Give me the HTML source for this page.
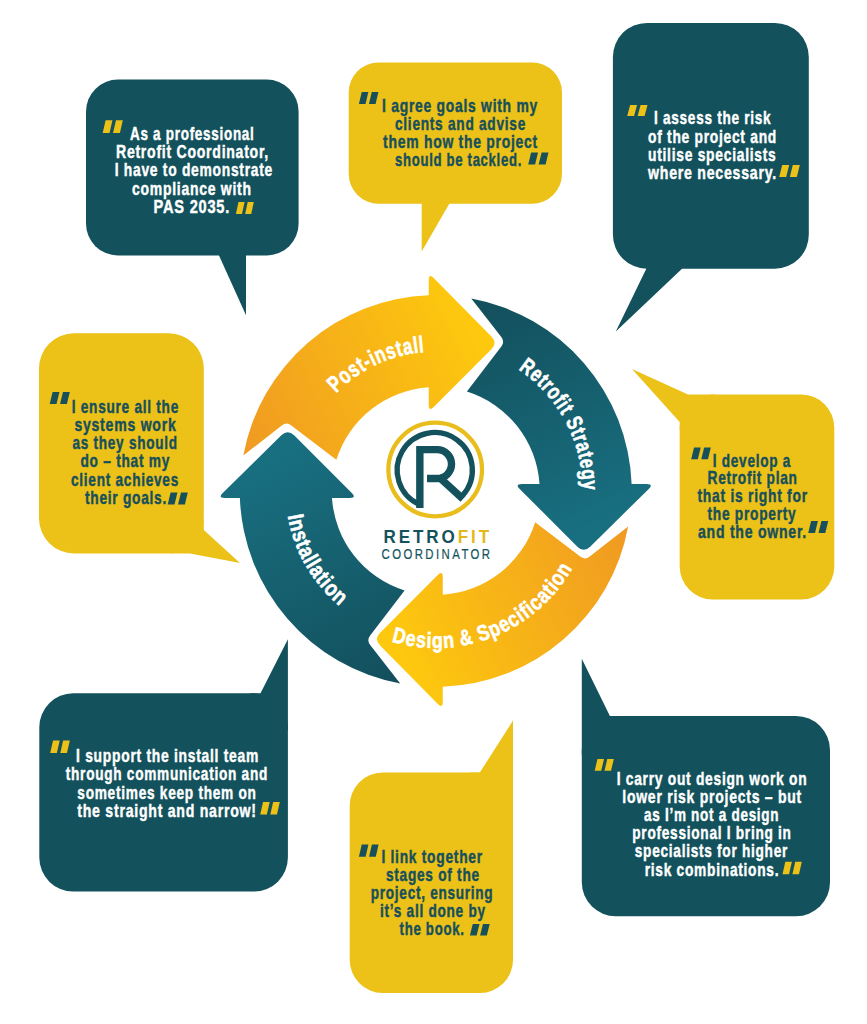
<!DOCTYPE html><html><head><meta charset="utf-8"><style>html,body{margin:0;padding:0;background:#fff;}svg{display:block;}</style></head><body>
<svg width="867" height="1024" viewBox="0 0 867 1024">
<rect width="867" height="1024" fill="#fff"/>
<defs>
<linearGradient id="gT" gradientUnits="userSpaceOnUse" x1="40" y1="-190" x2="150" y2="40"><stop offset="0" stop-color="#134f5c"/><stop offset="1" stop-color="#186f80"/></linearGradient>
<linearGradient id="gO" gradientUnits="userSpaceOnUse" x1="40" y1="-190" x2="150" y2="40"><stop offset="0" stop-color="#f09a22"/><stop offset="1" stop-color="#fdc80e"/></linearGradient>
</defs>
<g transform="translate(435.75,491) rotate(0)"><path d="M35.55,-192.4 L35.55,-192.40 L65.56,-153.93 Q69.25,-149.20 65.60,-144.43 L31.15,-99.40 A104,104 0 0 1 103.76,-7.00 L103.76,-7.00 L86.00,-7.00 Q79.00,-7.00 83.95,-2.05 L141.64,55.64 Q148.00,62.00 154.41,55.68 L213.01,-2.09 Q218.00,-7.00 211.00,-7.00 L195.87,-7.00 A196,196 0 0 0 35.55,-192.4 Z" fill="url(#gT)"/></g>
<g transform="translate(435.75,491) rotate(90)"><path d="M35.55,-192.4 L35.55,-192.40 L65.56,-153.93 Q69.25,-149.20 65.60,-144.43 L31.15,-99.40 A104,104 0 0 1 103.76,-7.00 L103.76,-7.00 L86.00,-7.00 Q79.00,-7.00 83.95,-2.05 L141.64,55.64 Q148.00,62.00 154.41,55.68 L213.01,-2.09 Q218.00,-7.00 211.00,-7.00 L195.87,-7.00 A196,196 0 0 0 35.55,-192.4 Z" fill="url(#gO)"/></g>
<g transform="translate(435.75,491) rotate(180)"><path d="M35.55,-192.4 L35.55,-192.40 L65.56,-153.93 Q69.25,-149.20 65.60,-144.43 L31.15,-99.40 A104,104 0 0 1 103.76,-7.00 L103.76,-7.00 L86.00,-7.00 Q79.00,-7.00 83.95,-2.05 L141.64,55.64 Q148.00,62.00 154.41,55.68 L213.01,-2.09 Q218.00,-7.00 211.00,-7.00 L195.87,-7.00 A196,196 0 0 0 35.55,-192.4 Z" fill="url(#gT)"/></g>
<g transform="translate(435.75,491) rotate(270)"><path d="M35.55,-192.4 L35.55,-192.40 L65.56,-153.93 Q69.25,-149.20 65.60,-144.43 L31.15,-99.40 A104,104 0 0 1 103.76,-7.00 L103.76,-7.00 L86.00,-7.00 Q79.00,-7.00 83.95,-2.05 L141.64,55.64 Q148.00,62.00 154.41,55.68 L213.01,-2.09 Q218.00,-7.00 211.00,-7.00 L195.87,-7.00 A196,196 0 0 0 35.55,-192.4 Z" fill="url(#gO)"/></g>
<defs>
<path id="arc0" d="M296.78,478.84 A139.5,139.5 0 0 1 515.76,376.73"/>
<path id="arc1" d="M440.88,344.09 A147,147 0 0 1 560.41,568.90"/>
<path id="arc2" d="M339.52,615.05 A157,157 0 0 0 591.30,512.31"/>
<path id="arc3" d="M305.98,415.77 A150,150 0 0 0 435.49,641.00"/>
</defs>
<text font-family='"Liberation Sans", sans-serif' font-weight="bold" font-size="23" letter-spacing="1" fill="#fff" stroke="#fff" stroke-width="0.6"><textPath href="#arc0" startOffset="50%" text-anchor="middle" textLength="100" lengthAdjust="spacingAndGlyphs">Post-install</textPath></text>
<text font-family='"Liberation Sans", sans-serif' font-weight="bold" font-size="22.5" letter-spacing="1" fill="#fff" stroke="#fff" stroke-width="0.6"><textPath href="#arc1" startOffset="50%" text-anchor="middle" textLength="143" lengthAdjust="spacingAndGlyphs">Retrofit Strategy</textPath></text>
<text font-family='"Liberation Sans", sans-serif' font-weight="bold" font-size="22" letter-spacing="1" fill="#fff" stroke="#fff" stroke-width="0.6"><textPath href="#arc2" startOffset="50%" text-anchor="middle" textLength="211" lengthAdjust="spacingAndGlyphs">Design &amp; Specification</textPath></text>
<text font-family='"Liberation Sans", sans-serif' font-weight="bold" font-size="22.5" letter-spacing="1" fill="#fff" stroke="#fff" stroke-width="0.6"><textPath href="#arc3" startOffset="50%" text-anchor="middle" textLength="107" lengthAdjust="spacingAndGlyphs">Installation</textPath></text>
<path d="M118,79.6 H266.6 A32,32 0 0 1 298.6,111.6 V223.5 A32,32 0 0 1 266.6,255.5 H118 A32,32 0 0 1 86,223.5 V111.6 A32,32 0 0 1 118,79.6 Z" fill="#13525c"/><path d="M219,250 L219,255.5 L246,315.2 L246,250 Z" fill="#13525c"/>
<path d="M378.7,62.5 H532 A30,30 0 0 1 562,92.5 V173.7 A30,30 0 0 1 532,203.7 H378.7 A30,30 0 0 1 348.7,173.7 V92.5 A30,30 0 0 1 378.7,62.5 Z" fill="#ecc118"/><path d="M421.7,198 L421.7,251.5 L449.3,203.7 L449.3,198 Z" fill="#ecc118"/>
<path d="M646.9,22.9 H774.8 A34,34 0 0 1 808.8,56.9 V234.7 A34,34 0 0 1 774.8,268.7 H646.9 A34,34 0 0 1 612.9,234.7 V56.9 A34,34 0 0 1 646.9,22.9 Z" fill="#13525c"/><path d="M646.3,240 L646.3,268.7 L615.8,331.4 L682,268.7 L682,240 Z" fill="#13525c"/>
<path d="M74,333.3 H168.8 A35,35 0 0 1 203.8,368.3 V518.4 A35,35 0 0 1 168.8,553.4 H74 A35,35 0 0 1 39,518.4 V368.3 A35,35 0 0 1 74,333.3 Z" fill="#ecc118"/><path d="M203.8,520 L203.8,530 L240,563 L190,553.4 L170,553.4 L170,520 Z" fill="#ecc118"/>
<path d="M712.7,394.6 H801.3 A33,33 0 0 1 834.3,427.6 V566.4 A33,33 0 0 1 801.3,599.4 H712.7 A33,33 0 0 1 679.7,566.4 V427.6 A33,33 0 0 1 712.7,394.6 Z" fill="#ecc118"/><path d="M688,394.6 L632,369 L679.7,422 L679.7,430 L715,430 L715,394.6 Z" fill="#ecc118"/>
<path d="M73.3,693.2 H253.89999999999998 A34,34 0 0 1 287.9,727.2 V857.6 A34,34 0 0 1 253.89999999999998,891.6 H73.3 A34,34 0 0 1 39.3,857.6 V727.2 A34,34 0 0 1 73.3,693.2 Z" fill="#13525c"/><path d="M260.5,693.2 L287.9,639.3 L287.9,730 L250,730 L250,693.2 Z" fill="#13525c"/>
<path d="M382.7,772.6 H480 A33,33 0 0 1 513,805.6 V959.9 A33,33 0 0 1 480,992.9 H382.7 A33,33 0 0 1 349.7,959.9 V805.6 A33,33 0 0 1 382.7,772.6 Z" fill="#ecc118"/><path d="M479.8,772.6 L513,720.6 L513,810 L470,810 L470,772.6 Z" fill="#ecc118"/>
<path d="M615.8,716 H796 A34,34 0 0 1 830,750 V882.3 A34,34 0 0 1 796,916.3 H615.8 A34,34 0 0 1 581.8,882.3 V750 A34,34 0 0 1 615.8,716 Z" fill="#13525c"/><path d="M581.8,755 L581.8,658.7 L609.9,716 L620,716 L620,755 Z" fill="#13525c"/>
<text x="130" y="140.4" font-family='"Liberation Sans", sans-serif' font-weight="bold" font-size="19" letter-spacing="1.0" fill="#ffffff" stroke="#ffffff" stroke-width="0.45" textLength="124.5" lengthAdjust="spacingAndGlyphs">As a professional</text>
<text x="116" y="158.3" font-family='"Liberation Sans", sans-serif' font-weight="bold" font-size="19" letter-spacing="1.0" fill="#ffffff" stroke="#ffffff" stroke-width="0.45" textLength="153.0" lengthAdjust="spacingAndGlyphs">Retrofit Coordinator,</text>
<text x="114.7" y="176.1" font-family='"Liberation Sans", sans-serif' font-weight="bold" font-size="19" letter-spacing="1.0" fill="#ffffff" stroke="#ffffff" stroke-width="0.45" textLength="158.3" lengthAdjust="spacingAndGlyphs">I have to demonstrate</text>
<text x="132" y="194.5" font-family='"Liberation Sans", sans-serif' font-weight="bold" font-size="19" letter-spacing="1.0" fill="#ffffff" stroke="#ffffff" stroke-width="0.45" textLength="119.7" lengthAdjust="spacingAndGlyphs">compliance with</text>
<text x="153.6" y="212.5" font-family='"Liberation Sans", sans-serif' font-weight="bold" font-size="19" letter-spacing="1.0" fill="#ffffff" stroke="#ffffff" stroke-width="0.45" textLength="76.4" lengthAdjust="spacingAndGlyphs">PAS 2035.</text>
<path d="M105.6145,120.2 L112.44850000000001,120.2 L109.534,132.9 L102.7,132.9 Z" fill="#ecc118"/><path d="M115.96600000000001,120.2 L122.80000000000001,120.2 L119.88550000000001,132.9 L113.0515,132.9 Z" fill="#ecc118"/>
<path d="M238.4955,202 L244.5815,202 L241.986,214 L235.89999999999998,214 Z" fill="#ecc118"/><path d="M247.714,202 L253.8,202 L251.2045,214 L245.11849999999998,214 Z" fill="#ecc118"/>
<text x="382" y="112" font-family='"Liberation Sans", sans-serif' font-weight="bold" font-size="19" letter-spacing="1.0" fill="#17505b" stroke="#17505b" stroke-width="0.45" textLength="156.0" lengthAdjust="spacingAndGlyphs">I agree goals with my</text>
<text x="395" y="130" font-family='"Liberation Sans", sans-serif' font-weight="bold" font-size="19" letter-spacing="1.0" fill="#17505b" stroke="#17505b" stroke-width="0.45" textLength="131.0" lengthAdjust="spacingAndGlyphs">clients and advise</text>
<text x="383" y="148" font-family='"Liberation Sans", sans-serif' font-weight="bold" font-size="19" letter-spacing="1.0" fill="#17505b" stroke="#17505b" stroke-width="0.45" textLength="155.0" lengthAdjust="spacingAndGlyphs">them how the project</text>
<text x="395" y="166.3" font-family='"Liberation Sans", sans-serif' font-weight="bold" font-size="19" letter-spacing="1.0" fill="#17505b" stroke="#17505b" stroke-width="0.45" textLength="127.0" lengthAdjust="spacingAndGlyphs">should be tackled.</text>
<path d="M361.72749999999996,92 L368.35749999999996,92 L365.53,104 L358.9,104 Z" fill="#17505b"/><path d="M371.77,92 L378.4,92 L375.5725,104 L368.9425,104 Z" fill="#17505b"/>
<path d="M531.1435,152.5 L538.0455,152.5 L535.102,164.6 L528.2,164.6 Z" fill="#17505b"/><path d="M541.598,152.5 L548.4999999999999,152.5 L545.5564999999999,164.6 L538.6545,164.6 Z" fill="#17505b"/>
<text x="654" y="124.4" font-family='"Liberation Sans", sans-serif' font-weight="bold" font-size="19" letter-spacing="1.0" fill="#ffffff" stroke="#ffffff" stroke-width="0.45" textLength="117.4" lengthAdjust="spacingAndGlyphs">I assess the risk</text>
<text x="648" y="142.7" font-family='"Liberation Sans", sans-serif' font-weight="bold" font-size="19" letter-spacing="1.0" fill="#ffffff" stroke="#ffffff" stroke-width="0.45" textLength="129.0" lengthAdjust="spacingAndGlyphs">of the project and</text>
<text x="648" y="161.4" font-family='"Liberation Sans", sans-serif' font-weight="bold" font-size="19" letter-spacing="1.0" fill="#ffffff" stroke="#ffffff" stroke-width="0.45" textLength="128.5" lengthAdjust="spacingAndGlyphs">utilise specialists</text>
<text x="648" y="179" font-family='"Liberation Sans", sans-serif' font-weight="bold" font-size="19" letter-spacing="1.0" fill="#ffffff" stroke="#ffffff" stroke-width="0.45" textLength="129.0" lengthAdjust="spacingAndGlyphs">where necessary.</text>
<path d="M630.1435,105 L637.0455,105 L634.102,116 L627.2,116 Z" fill="#ecc118"/><path d="M640.598,105 L647.4999999999999,105 L644.5564999999999,116 L637.6545,116 Z" fill="#ecc118"/>
<path d="M782.187,165 L789.191,165 L786.2040000000001,177 L779.2,177 Z" fill="#ecc118"/><path d="M792.7959999999999,165 L799.8,165 L796.813,177 L789.809,177 Z" fill="#ecc118"/>
<text x="71.7" y="412.8" font-family='"Liberation Sans", sans-serif' font-weight="bold" font-size="19" letter-spacing="1.0" fill="#17505b" stroke="#17505b" stroke-width="0.45" textLength="107.3" lengthAdjust="spacingAndGlyphs">I ensure all the</text>
<text x="74.4" y="431" font-family='"Liberation Sans", sans-serif' font-weight="bold" font-size="19" letter-spacing="1.0" fill="#17505b" stroke="#17505b" stroke-width="0.45" textLength="102.1" lengthAdjust="spacingAndGlyphs">systems work</text>
<text x="72.5" y="449" font-family='"Liberation Sans", sans-serif' font-weight="bold" font-size="19" letter-spacing="1.0" fill="#17505b" stroke="#17505b" stroke-width="0.45" textLength="105.3" lengthAdjust="spacingAndGlyphs">as they should</text>
<text x="80.5" y="467" font-family='"Liberation Sans", sans-serif' font-weight="bold" font-size="19" letter-spacing="1.0" fill="#17505b" stroke="#17505b" stroke-width="0.45" textLength="89.5" lengthAdjust="spacingAndGlyphs">do – that my</text>
<text x="71" y="485.8" font-family='"Liberation Sans", sans-serif' font-weight="bold" font-size="19" letter-spacing="1.0" fill="#17505b" stroke="#17505b" stroke-width="0.45" textLength="108.0" lengthAdjust="spacingAndGlyphs">client achieves</text>
<text x="85" y="503.8" font-family='"Liberation Sans", sans-serif' font-weight="bold" font-size="19" letter-spacing="1.0" fill="#17505b" stroke="#17505b" stroke-width="0.45" textLength="82.0" lengthAdjust="spacingAndGlyphs">their goals.</text>
<path d="M52.6145,392 L59.448499999999996,392 L56.534,404 L49.7,404 Z" fill="#17505b"/><path d="M62.965999999999994,392 L69.8,392 L66.8855,404 L60.0515,404 Z" fill="#17505b"/>
<path d="M170.6145,492.4 L177.4485,492.4 L174.534,504.4 L167.7,504.4 Z" fill="#17505b"/><path d="M180.966,492.4 L187.8,492.4 L184.8855,504.4 L178.0515,504.4 Z" fill="#17505b"/>
<text x="712.8" y="466.7" font-family='"Liberation Sans", sans-serif' font-weight="bold" font-size="19" letter-spacing="1.0" fill="#17505b" stroke="#17505b" stroke-width="0.45" textLength="78.2" lengthAdjust="spacingAndGlyphs">I develop a</text>
<text x="707.5" y="484" font-family='"Liberation Sans", sans-serif' font-weight="bold" font-size="19" letter-spacing="1.0" fill="#17505b" stroke="#17505b" stroke-width="0.45" textLength="90.2" lengthAdjust="spacingAndGlyphs">Retrofit plan</text>
<text x="697.5" y="501.7" font-family='"Liberation Sans", sans-serif' font-weight="bold" font-size="19" letter-spacing="1.0" fill="#17505b" stroke="#17505b" stroke-width="0.45" textLength="110.3" lengthAdjust="spacingAndGlyphs">that is right for</text>
<text x="707.5" y="520.3" font-family='"Liberation Sans", sans-serif' font-weight="bold" font-size="19" letter-spacing="1.0" fill="#17505b" stroke="#17505b" stroke-width="0.45" textLength="88.9" lengthAdjust="spacingAndGlyphs">the property</text>
<text x="698" y="538.3" font-family='"Liberation Sans", sans-serif' font-weight="bold" font-size="19" letter-spacing="1.0" fill="#17505b" stroke="#17505b" stroke-width="0.45" textLength="109.0" lengthAdjust="spacingAndGlyphs">and the owner.</text>
<path d="M694.042,447.6 L700.706,447.6 L697.864,459.3 L691.2,459.3 Z" fill="#17505b"/><path d="M704.136,447.6 L710.8,447.6 L707.958,459.3 L701.294,459.3 Z" fill="#17505b"/>
<path d="M811.1,521 L817.9,521 L815.0,533 L808.2,533 Z" fill="#17505b"/><path d="M821.4,521 L828.1999999999999,521 L825.3,533 L818.5,533 Z" fill="#17505b"/>
<text x="76" y="762.4" font-family='"Liberation Sans", sans-serif' font-weight="bold" font-size="19" letter-spacing="1.0" fill="#ffffff" stroke="#ffffff" stroke-width="0.45" textLength="183.0" lengthAdjust="spacingAndGlyphs">I support the install team</text>
<text x="65.8" y="780.4" font-family='"Liberation Sans", sans-serif' font-weight="bold" font-size="19" letter-spacing="1.0" fill="#ffffff" stroke="#ffffff" stroke-width="0.45" textLength="202.2" lengthAdjust="spacingAndGlyphs">through communication and</text>
<text x="77.3" y="798.8" font-family='"Liberation Sans", sans-serif' font-weight="bold" font-size="19" letter-spacing="1.0" fill="#ffffff" stroke="#ffffff" stroke-width="0.45" textLength="179.4" lengthAdjust="spacingAndGlyphs">sometimes keep them on</text>
<text x="77.3" y="816.9" font-family='"Liberation Sans", sans-serif' font-weight="bold" font-size="19" letter-spacing="1.0" fill="#ffffff" stroke="#ffffff" stroke-width="0.45" textLength="179.4" lengthAdjust="spacingAndGlyphs">the straight and narrow!</text>
<path d="M53.042,740.6 L59.706,740.6 L56.864000000000004,753 L50.2,753 Z" fill="#ecc118"/><path d="M63.135999999999996,740.6 L69.8,740.6 L66.958,753 L60.294,753 Z" fill="#ecc118"/>
<path d="M263.042,802 L269.70599999999996,802 L266.864,814.4 L260.2,814.4 Z" fill="#ecc118"/><path d="M273.13599999999997,802 L279.79999999999995,802 L276.95799999999997,814.4 L270.294,814.4 Z" fill="#ecc118"/>
<text x="381.4" y="862.5" font-family='"Liberation Sans", sans-serif' font-weight="bold" font-size="19" letter-spacing="1.0" fill="#17505b" stroke="#17505b" stroke-width="0.45" textLength="101.4" lengthAdjust="spacingAndGlyphs">I link together</text>
<text x="386" y="880.6" font-family='"Liberation Sans", sans-serif' font-weight="bold" font-size="19" letter-spacing="1.0" fill="#17505b" stroke="#17505b" stroke-width="0.45" textLength="93.8" lengthAdjust="spacingAndGlyphs">stages of the</text>
<text x="370.8" y="898.8" font-family='"Liberation Sans", sans-serif' font-weight="bold" font-size="19" letter-spacing="1.0" fill="#17505b" stroke="#17505b" stroke-width="0.45" textLength="122.6" lengthAdjust="spacingAndGlyphs">project, ensuring</text>
<text x="380" y="917" font-family='"Liberation Sans", sans-serif' font-weight="bold" font-size="19" letter-spacing="1.0" fill="#17505b" stroke="#17505b" stroke-width="0.45" textLength="105.8" lengthAdjust="spacingAndGlyphs">it’s all done by</text>
<text x="399.6" y="935.4" font-family='"Liberation Sans", sans-serif' font-weight="bold" font-size="19" letter-spacing="1.0" fill="#17505b" stroke="#17505b" stroke-width="0.45" textLength="65.0" lengthAdjust="spacingAndGlyphs">the book.</text>
<path d="M361.75649999999996,844.6 L368.4545,844.6 L365.598,856.7 L358.9,856.7 Z" fill="#17505b"/><path d="M371.902,844.6 L378.6,844.6 L375.74350000000004,856.7 L369.0455,856.7 Z" fill="#17505b"/>
<path d="M472.77099999999996,924 L479.503,924 L476.632,935.4 L469.9,935.4 Z" fill="#17505b"/><path d="M482.96799999999996,924 L489.7,924 L486.829,935.4 L480.097,935.4 Z" fill="#17505b"/>
<text x="616.7" y="784.5" font-family='"Liberation Sans", sans-serif' font-weight="bold" font-size="19" letter-spacing="1.0" fill="#ffffff" stroke="#ffffff" stroke-width="0.45" textLength="190.6" lengthAdjust="spacingAndGlyphs">I carry out design work on</text>
<text x="622.3" y="802.6" font-family='"Liberation Sans", sans-serif' font-weight="bold" font-size="19" letter-spacing="1.0" fill="#ffffff" stroke="#ffffff" stroke-width="0.45" textLength="179.7" lengthAdjust="spacingAndGlyphs">lower risk projects – but</text>
<text x="644" y="820.7" font-family='"Liberation Sans", sans-serif' font-weight="bold" font-size="19" letter-spacing="1.0" fill="#ffffff" stroke="#ffffff" stroke-width="0.45" textLength="135.3" lengthAdjust="spacingAndGlyphs">as I’m not a design</text>
<text x="632.3" y="839.3" font-family='"Liberation Sans", sans-serif' font-weight="bold" font-size="19" letter-spacing="1.0" fill="#ffffff" stroke="#ffffff" stroke-width="0.45" textLength="159.4" lengthAdjust="spacingAndGlyphs">professional I bring in</text>
<text x="634.8" y="857" font-family='"Liberation Sans", sans-serif' font-weight="bold" font-size="19" letter-spacing="1.0" fill="#ffffff" stroke="#ffffff" stroke-width="0.45" textLength="153.2" lengthAdjust="spacingAndGlyphs">specialists for higher</text>
<text x="644.7" y="875.8" font-family='"Liberation Sans", sans-serif' font-weight="bold" font-size="19" letter-spacing="1.0" fill="#ffffff" stroke="#ffffff" stroke-width="0.45" textLength="134.6" lengthAdjust="spacingAndGlyphs">risk combinations.</text>
<path d="M597.4695,759 L603.9635,759 L601.194,770.8 L594.7,770.8 Z" fill="#ecc118"/><path d="M607.306,759 L613.8,759 L611.0305,770.8 L604.5365,770.8 Z" fill="#ecc118"/>
<path d="M785.2985,861.8 L791.8605,861.8 L789.062,874.2 L782.5,874.2 Z" fill="#ecc118"/><path d="M795.2379999999999,861.8 L801.8,861.8 L799.0015,874.2 L792.4395,874.2 Z" fill="#ecc118"/>
<circle cx="435.2" cy="469.5" r="46.8" fill="none" stroke="#e9bd1c" stroke-width="4.3"/>
<path d="M419.5,504.5 A37.6,37.6 0 1 1 462.5,495.5" fill="none" stroke="#13525c" stroke-width="5.3"/>
<path d="M419.85,508 V449.6 H437.1 A14.45,14.45 0 0 1 437.1,478.5 H427" fill="none" stroke="#13525c" stroke-width="7.4" stroke-linejoin="miter"/>
<path d="M440,478 L463,499" fill="none" stroke="#13525c" stroke-width="7.4"/>
<text x="383.5" y="543" font-family='"Liberation Sans", sans-serif' font-weight="bold" font-size="17.5" letter-spacing="3" fill="#13525c" textLength="108.5" lengthAdjust="spacingAndGlyphs">RETRO<tspan fill="#e3b81d">FIT</tspan></text>
<text x="381.5" y="558.6" font-family='"Liberation Sans", sans-serif' font-size="14" letter-spacing="3" fill="#13525c" stroke="#13525c" stroke-width="0.2" textLength="111" lengthAdjust="spacingAndGlyphs">COORDINATOR</text>
</svg></body></html>
